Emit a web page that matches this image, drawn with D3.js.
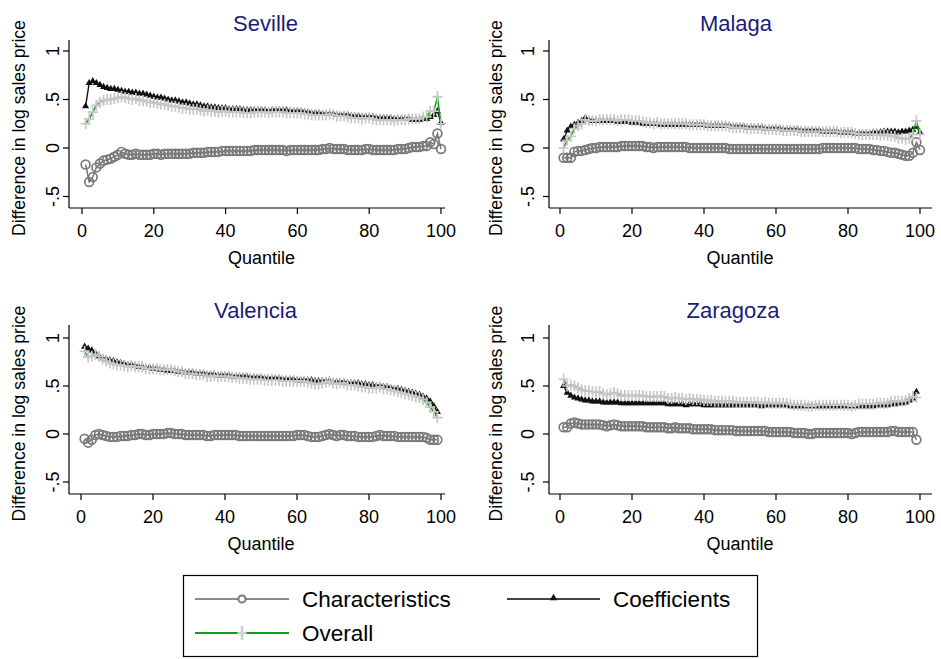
<!DOCTYPE html>
<html><head><meta charset="utf-8">
<script src="https://cdn.jsdelivr.net/npm/d3@7"></script>
<style>
body{margin:0;background:#fff}
svg{display:block;font-family:"Liberation Sans",Arial,Helvetica,sans-serif}
</style>
</head><body>
<svg id="c" width="941" height="659"></svg>
<script>
// ---------------- DATA ----------------
const cities = ["Seville", "Malaga", "Valencia", "Zaragoza"];
const seriesNames = ["Characteristics", "Coefficients", "Overall"];
const xTicks = [0, 20, 40, 60, 80, 100];
const yTicks = [-0.5, 0, 0.5, 1];
const yTickLabels = ["-.5", "0", ".5", "1"];
const xTitle = "Quantile";
const yTitle = "Difference in log sales price";

const sevilleChar = [
 -0.17,-0.35,-0.30,-0.20,-0.16,-0.13,-0.12,-0.11,-0.09,-0.07,
 -0.04,-0.06,-0.07,-0.07,-0.06,-0.07,-0.07,-0.07,-0.07,-0.06,
 -0.06,-0.07,-0.06,-0.06,-0.06,-0.06,-0.06,-0.06,-0.06,-0.06,
 -0.05,-0.05,-0.05,-0.05,-0.04,-0.04,-0.04,-0.04,-0.03,-0.03,
 -0.03,-0.03,-0.03,-0.03,-0.03,-0.03,-0.03,-0.02,-0.02,-0.02,
 -0.02,-0.02,-0.02,-0.02,-0.02,-0.02,-0.03,-0.02,-0.02,-0.02,
 -0.02,-0.02,-0.02,-0.02,-0.02,-0.02,-0.01,-0.01,0.00,-0.01,
 -0.01,-0.01,-0.01,-0.02,-0.02,-0.02,-0.02,-0.02,-0.01,-0.01,
 -0.02,-0.02,-0.02,-0.02,-0.02,-0.02,-0.02,-0.01,-0.01,-0.01,
 0.00,0.01,0.01,0.01,0.02,0.02,0.06,0.04,0.15,-0.01];
const sevilleCoef = [
 0.43,0.67,0.69,0.67,0.65,0.63,0.62,0.61,0.61,0.60,
 0.59,0.58,0.58,0.57,0.57,0.56,0.56,0.55,0.54,0.53,
 0.52,0.52,0.51,0.50,0.49,0.49,0.48,0.47,0.47,0.46,
 0.45,0.45,0.44,0.43,0.43,0.42,0.42,0.41,0.41,0.41,
 0.40,0.40,0.40,0.40,0.39,0.39,0.39,0.39,0.39,0.39,
 0.39,0.38,0.39,0.39,0.39,0.39,0.39,0.38,0.38,0.38,
 0.38,0.37,0.37,0.36,0.36,0.36,0.35,0.35,0.35,0.35,
 0.34,0.34,0.34,0.34,0.33,0.33,0.33,0.32,0.32,0.32,
 0.32,0.31,0.31,0.31,0.31,0.31,0.30,0.30,0.30,0.30,
 0.30,0.29,0.29,0.29,0.30,0.30,0.32,0.34,0.38,0.26];
const sevilleOverall = [
 0.25,0.30,0.37,0.44,0.47,0.49,0.50,0.50,0.51,0.52,
 0.53,0.52,0.51,0.50,0.51,0.49,0.49,0.48,0.47,0.47,
 0.46,0.45,0.45,0.44,0.43,0.43,0.42,0.41,0.41,0.40,
 0.40,0.40,0.39,0.38,0.39,0.38,0.38,0.37,0.38,0.38,
 0.37,0.37,0.37,0.37,0.36,0.36,0.36,0.37,0.37,0.37,
 0.37,0.36,0.37,0.37,0.37,0.37,0.36,0.36,0.36,0.36,
 0.36,0.35,0.35,0.34,0.34,0.34,0.34,0.34,0.35,0.34,
 0.33,0.33,0.33,0.32,0.31,0.31,0.31,0.30,0.31,0.31,
 0.30,0.29,0.29,0.29,0.29,0.29,0.28,0.29,0.29,0.29,
 0.30,0.30,0.30,0.30,0.32,0.32,0.38,0.38,0.53,0.25];

const malagaChar = [
 -0.10,-0.10,-0.10,-0.04,-0.03,-0.03,-0.02,-0.01,0.00,0.00,
 0.01,0.01,0.01,0.01,0.01,0.01,0.02,0.02,0.02,0.02,
 0.02,0.02,0.02,0.01,0.01,0.00,0.01,0.01,0.01,0.01,
 0.01,0.01,0.01,0.01,0.01,0.00,0.00,0.00,0.00,0.00,
 0.00,0.00,0.00,0.00,0.00,0.00,-0.01,-0.01,-0.01,-0.01,
 -0.01,-0.01,-0.01,-0.01,-0.01,-0.01,-0.01,-0.01,-0.01,-0.01,
 -0.01,-0.01,-0.01,-0.01,-0.01,-0.01,-0.01,-0.01,-0.01,-0.01,
 -0.01,-0.01,0.00,0.00,0.00,0.00,0.00,0.00,0.00,0.00,
 0.00,0.00,-0.01,-0.01,-0.01,-0.01,-0.02,-0.02,-0.03,-0.03,
 -0.04,-0.05,-0.05,-0.06,-0.07,-0.08,-0.08,-0.05,0.06,-0.02];
const malagaCoef = [
 0.09,0.18,0.22,0.24,0.26,0.28,0.31,0.29,0.28,0.28,
 0.28,0.28,0.28,0.28,0.28,0.27,0.27,0.27,0.27,0.26,
 0.26,0.26,0.25,0.25,0.25,0.25,0.25,0.24,0.24,0.24,
 0.24,0.24,0.24,0.24,0.24,0.24,0.24,0.24,0.24,0.24,
 0.23,0.23,0.23,0.23,0.23,0.23,0.23,0.22,0.22,0.22,
 0.22,0.21,0.21,0.21,0.21,0.21,0.20,0.20,0.20,0.20,
 0.20,0.19,0.19,0.19,0.19,0.19,0.18,0.18,0.18,0.18,
 0.18,0.18,0.17,0.17,0.17,0.17,0.17,0.16,0.16,0.16,
 0.16,0.15,0.15,0.15,0.15,0.15,0.16,0.16,0.16,0.17,
 0.17,0.17,0.17,0.16,0.17,0.17,0.18,0.19,0.22,0.16];
const malagaOverall = [
 0.00,0.08,0.12,0.20,0.23,0.25,0.29,0.28,0.28,0.28,
 0.29,0.29,0.29,0.29,0.29,0.28,0.29,0.29,0.29,0.28,
 0.28,0.28,0.27,0.26,0.26,0.25,0.26,0.25,0.25,0.25,
 0.25,0.25,0.25,0.25,0.25,0.24,0.24,0.24,0.24,0.24,
 0.23,0.23,0.23,0.23,0.23,0.23,0.22,0.21,0.21,0.21,
 0.21,0.20,0.20,0.20,0.20,0.20,0.19,0.19,0.19,0.19,
 0.19,0.18,0.18,0.18,0.18,0.18,0.17,0.17,0.17,0.17,
 0.17,0.17,0.17,0.17,0.17,0.17,0.17,0.16,0.16,0.16,
 0.16,0.15,0.14,0.14,0.14,0.14,0.14,0.14,0.13,0.14,
 0.13,0.12,0.12,0.10,0.10,0.09,0.10,0.14,0.28,0.14];

const valenciaChar = [
 -0.05,-0.09,-0.06,-0.01,0.00,-0.01,-0.02,-0.03,-0.03,-0.03,
 -0.02,-0.02,-0.02,-0.01,-0.01,0.00,0.00,-0.01,-0.01,0.00,
 0.00,0.00,0.00,0.01,0.01,0.00,0.00,0.00,-0.01,-0.01,
 -0.01,-0.01,-0.01,-0.01,-0.02,-0.02,-0.01,-0.01,-0.01,-0.01,
 -0.01,-0.01,-0.01,-0.02,-0.02,-0.02,-0.02,-0.02,-0.02,-0.02,
 -0.02,-0.02,-0.02,-0.02,-0.02,-0.02,-0.02,-0.02,-0.02,-0.01,
 -0.01,-0.01,-0.02,-0.03,-0.03,-0.03,-0.02,-0.01,0.00,-0.01,
 -0.02,-0.01,-0.01,-0.02,-0.02,-0.02,-0.03,-0.03,-0.03,-0.03,
 -0.03,-0.02,-0.01,-0.02,-0.02,-0.02,-0.02,-0.03,-0.03,-0.03,
 -0.03,-0.03,-0.03,-0.03,-0.03,-0.04,-0.06,-0.06,-0.06];
const valenciaCoef = [
 0.91,0.89,0.87,0.84,0.81,0.79,0.78,0.77,0.76,0.75,
 0.74,0.73,0.72,0.72,0.71,0.70,0.70,0.69,0.69,0.68,
 0.68,0.67,0.67,0.66,0.66,0.66,0.65,0.65,0.64,0.64,
 0.64,0.63,0.63,0.63,0.62,0.62,0.62,0.61,0.61,0.61,
 0.61,0.60,0.60,0.60,0.60,0.60,0.59,0.59,0.59,0.59,
 0.58,0.58,0.58,0.58,0.58,0.57,0.57,0.57,0.57,0.56,
 0.56,0.56,0.56,0.56,0.55,0.55,0.55,0.55,0.55,0.54,
 0.54,0.54,0.54,0.53,0.53,0.53,0.53,0.52,0.52,0.51,
 0.51,0.50,0.50,0.49,0.49,0.48,0.47,0.47,0.46,0.45,
 0.44,0.43,0.42,0.41,0.39,0.37,0.34,0.29,0.23];
const valenciaOverall = [
 0.86,0.80,0.81,0.83,0.81,0.78,0.76,0.74,0.73,0.72,
 0.72,0.71,0.70,0.71,0.70,0.70,0.70,0.68,0.68,0.68,
 0.68,0.67,0.67,0.67,0.67,0.66,0.65,0.65,0.63,0.63,
 0.63,0.62,0.62,0.62,0.60,0.60,0.61,0.60,0.60,0.60,
 0.60,0.59,0.59,0.58,0.58,0.58,0.57,0.57,0.57,0.57,
 0.56,0.56,0.56,0.56,0.56,0.55,0.55,0.55,0.55,0.55,
 0.55,0.55,0.54,0.53,0.52,0.52,0.53,0.54,0.55,0.53,
 0.52,0.53,0.53,0.51,0.51,0.51,0.50,0.49,0.49,0.48,
 0.48,0.48,0.49,0.47,0.47,0.46,0.45,0.44,0.43,0.42,
 0.41,0.40,0.39,0.38,0.36,0.33,0.28,0.23,0.17];

const zaragozaChar = [
 0.07,0.07,0.11,0.12,0.11,0.10,0.10,0.10,0.10,0.10,
 0.10,0.09,0.08,0.09,0.10,0.09,0.08,0.08,0.08,0.08,
 0.08,0.08,0.08,0.07,0.07,0.07,0.07,0.07,0.07,0.06,
 0.06,0.07,0.06,0.06,0.06,0.06,0.05,0.05,0.05,0.05,
 0.05,0.05,0.04,0.04,0.04,0.04,0.04,0.04,0.03,0.03,
 0.03,0.03,0.03,0.03,0.03,0.03,0.03,0.02,0.02,0.02,
 0.02,0.02,0.02,0.02,0.01,0.01,0.01,0.01,0.00,0.00,
 0.01,0.01,0.01,0.01,0.01,0.01,0.01,0.01,0.01,0.01,
 0.00,0.01,0.02,0.02,0.02,0.02,0.02,0.02,0.02,0.02,
 0.02,0.03,0.03,0.02,0.02,0.02,0.02,0.02,-0.06];
const zaragozaCoef = [
 0.50,0.43,0.40,0.38,0.37,0.36,0.35,0.35,0.34,0.34,
 0.34,0.33,0.33,0.33,0.33,0.33,0.32,0.32,0.32,0.32,
 0.32,0.32,0.32,0.32,0.32,0.32,0.32,0.32,0.32,0.31,
 0.31,0.31,0.31,0.31,0.30,0.31,0.31,0.31,0.31,0.30,
 0.30,0.30,0.30,0.30,0.30,0.30,0.30,0.30,0.30,0.30,
 0.30,0.30,0.30,0.30,0.30,0.29,0.30,0.30,0.30,0.30,
 0.30,0.30,0.30,0.29,0.29,0.29,0.29,0.29,0.29,0.29,
 0.29,0.29,0.29,0.29,0.29,0.29,0.29,0.29,0.29,0.29,
 0.29,0.29,0.29,0.29,0.29,0.29,0.29,0.30,0.30,0.30,
 0.30,0.31,0.31,0.32,0.32,0.33,0.35,0.37,0.44];
const zaragozaOverall = [
 0.57,0.50,0.51,0.50,0.48,0.46,0.45,0.45,0.44,0.44,
 0.44,0.42,0.41,0.42,0.43,0.42,0.40,0.40,0.40,0.40,
 0.40,0.40,0.40,0.39,0.39,0.39,0.39,0.39,0.39,0.37,
 0.37,0.38,0.37,0.37,0.36,0.37,0.36,0.36,0.36,0.35,
 0.35,0.35,0.34,0.34,0.34,0.34,0.34,0.34,0.33,0.33,
 0.33,0.33,0.33,0.33,0.33,0.32,0.33,0.32,0.32,0.32,
 0.32,0.32,0.32,0.31,0.30,0.30,0.30,0.30,0.29,0.29,
 0.30,0.30,0.30,0.30,0.30,0.30,0.30,0.30,0.30,0.30,
 0.29,0.30,0.31,0.31,0.31,0.31,0.31,0.32,0.32,0.32,
 0.32,0.34,0.34,0.34,0.34,0.35,0.37,0.39,0.38];

// ---------------- LAYOUT / STYLE ----------------
const panelData = {
  Seville:  [sevilleChar,  sevilleCoef,  sevilleOverall],
  Malaga:   [malagaChar,   malagaCoef,   malagaOverall],
  Valencia: [valenciaChar, valenciaCoef, valenciaOverall],
  Zaragoza: [zaragozaChar, zaragozaCoef, zaragozaOverall]
};
const layout = {
  Seville:  {ax:69,  x0:82,  x100:441, xr:445, y0:148, y1:51,  yt:40,  yb:208, tx:265.5, ty:31,  ylx:18,  tlx:53},
  Malaga:   {ax:549, x0:560, x100:920, xr:932, y0:148, y1:51,  yt:40,  yb:208, tx:736,   ty:31,  ylx:495, tlx:528},
  Valencia: {ax:69,  x0:81,  x100:441, xr:445, y0:434, y1:338, yt:325, yb:494, tx:255.5, ty:318, ylx:18,  tlx:53},
  Zaragoza: {ax:549, x0:560, x100:920, xr:932, y0:434, y1:338, yt:325, yb:494, tx:733,   ty:318, ylx:495, tlx:528}
};
const colChar = "#7a7a7a", colCoef = "#111111", colPlus = "#c6c6c6", colGreen = "#119f11";
const titleColor = "#1c1c78";

const svg = d3.select("#c");
const triSym = d3.symbol().type(d3.symbolTriangle).size(22);

cities.forEach(city => {
  const L = layout[city];
  const [ch, co, ov] = panelData[city];
  const x = d3.scaleLinear().domain([0, 100]).range([L.x0, L.x100]);
  const y = d3.scaleLinear().domain([0, 1]).range([L.y0, L.y1]);
  const g = svg.append("g");

  g.append("line").attr("x1", L.ax).attr("x2", L.ax).attr("y1", L.yt).attr("y2", L.yb)
    .attr("stroke", "#000").attr("stroke-width", 1.2);
  g.append("line").attr("x1", L.ax).attr("x2", L.xr).attr("y1", L.yb).attr("y2", L.yb)
    .attr("stroke", "#000").attr("stroke-width", 1.2);

  yTicks.forEach((t, i) => {
    g.append("line").attr("x1", L.ax - 6).attr("x2", L.ax).attr("y1", y(t)).attr("y2", y(t))
      .attr("stroke", "#000").attr("stroke-width", 1.2);
    g.append("text").attr("transform", `translate(${L.tlx + 6},${y(t)}) rotate(-90)`)
      .attr("text-anchor", "middle").attr("font-size", 18).attr("fill", "#000")
      .text(yTickLabels[i]);
  });
  xTicks.forEach(t => {
    g.append("line").attr("x1", x(t)).attr("x2", x(t)).attr("y1", L.yb).attr("y2", L.yb + 6)
      .attr("stroke", "#000").attr("stroke-width", 1.2);
    g.append("text").attr("x", x(t)).attr("y", L.yb + 28.5)
      .attr("text-anchor", "middle").attr("font-size", 18).attr("fill", "#000").text(t);
  });
  g.append("text").attr("x", x(50)).attr("y", L.yb + 55.5).attr("text-anchor", "middle")
    .attr("font-size", 18).attr("fill", "#000").text(xTitle);
  g.append("text").attr("transform", `translate(${L.ylx + 6.5},${(L.yt + L.yb) / 2 + 4}) rotate(-90)`)
    .attr("text-anchor", "middle").attr("font-size", 17.6).attr("fill", "#000").text(yTitle);
  g.append("text").attr("x", L.tx).attr("y", L.ty).attr("text-anchor", "middle")
    .attr("font-size", 22).attr("fill", titleColor).text(city);

  const line = d3.line().x((d, i) => x(i + 1)).y(d => y(d));

  g.append("path").datum(ch).attr("d", line).attr("fill", "none")
    .attr("stroke", colChar).attr("stroke-width", 1.5);
  g.selectAll(null).data(ch).join("circle")
    .attr("cx", (d, i) => x(i + 1)).attr("cy", d => y(d)).attr("r", 4.4)
    .attr("fill", "none").attr("stroke", colChar).attr("stroke-width", 1.7);

  g.append("path").datum(co).attr("d", line).attr("fill", "none")
    .attr("stroke", colCoef).attr("stroke-width", 1.4);
  g.selectAll(null).data(co).join("path")
    .attr("transform", (d, i) => `translate(${x(i + 1)},${y(d)})`)
    .attr("d", triSym).attr("fill", colCoef);

  g.append("path").datum(ov).attr("d", line).attr("fill", "none")
    .attr("stroke", colGreen).attr("stroke-width", 1.5);
  g.selectAll(null).data(ov).join("path")
    .attr("transform", (d, i) => `translate(${x(i + 1)},${y(d)})`)
    .attr("d", "M-5,0H5M0,-5.5V5.5").attr("fill", "none")
    .attr("stroke", colPlus).attr("stroke-width", 1.7);
});

// ---------------- LEGEND ----------------
const lg = svg.append("g");
lg.append("rect").attr("x", 183.5).attr("y", 575.5).attr("width", 574).attr("height", 81)
  .attr("fill", "#fff").attr("stroke", "#000").attr("stroke-width", 1.2);
const legendItems = [
  {name: seriesNames[0], x1: 195, x2: 289, y: 599, tx: 302, type: "char"},
  {name: seriesNames[1], x1: 507, x2: 600, y: 599, tx: 613, type: "coef"},
  {name: seriesNames[2], x1: 195, x2: 289, y: 633, tx: 302, type: "ov"}
];
legendItems.forEach(it => {
  const lc = it.type === "char" ? "#8a8a8a" : it.type === "coef" ? "#444" : colGreen;
  lg.append("line").attr("x1", it.x1).attr("x2", it.x2).attr("y1", it.y).attr("y2", it.y)
    .attr("stroke", lc).attr("stroke-width", 2);
  const mx = (it.x1 + it.x2) / 2;
  if (it.type === "char") {
    lg.append("circle").attr("cx", mx).attr("cy", it.y).attr("r", 3.6)
      .attr("fill", "#fff").attr("stroke", colChar).attr("stroke-width", 2);
  } else if (it.type === "coef") {
    lg.append("path").attr("transform", `translate(${mx},${it.y - 1})`)
      .attr("d", d3.symbol().type(d3.symbolTriangle).size(24)).attr("fill", "#111");
  } else {
    lg.append("path").attr("transform", `translate(${mx},${it.y})`)
      .attr("d", "M-4.5,0H4.5M0,-7V7").attr("stroke", "#d0d0d0").attr("stroke-width", 2.5);
  }
  lg.append("text").attr("x", it.tx).attr("y", it.y + 8).attr("font-size", 22.5)
    .attr("fill", "#000").text(it.name);
});
</script>
</body></html>
